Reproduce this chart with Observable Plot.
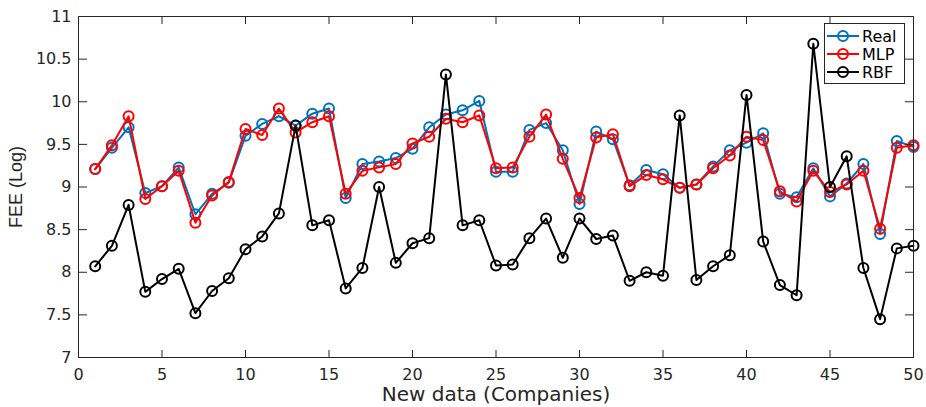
<!DOCTYPE html>
<html>
<head>
<meta charset="utf-8">
<script src="https://cdn.jsdelivr.net/npm/d3@7"></script>
<script src="https://cdn.jsdelivr.net/npm/@observablehq/plot@0.6"></script>
<style>
  html, body { margin: 0; padding: 0; background: #fff; }
  #wrap { position: relative; width: 926px; height: 407px; }
  #legend {
    position: absolute; left: 824px; top: 23px; width: 81px; height: 61px;
    border: 1px solid #262626; background: #fff; box-sizing: border-box;
    font-family: "DejaVu Sans", sans-serif; font-size: 16px; color: #000;
    padding-top: 3px;
  }
  .item { display: flex; align-items: center; height: 18px; }
  .item svg { margin-left: 2px; margin-right: 3px; }
</style>
</head>
<body>
<div id="wrap"></div>
<script>
// Company index (x)
const companies = [1,2,3,4,5,6,7,8,9,10,11,12,13,14,15,16,17,18,19,20,21,22,23,24,25,26,27,28,29,30,31,32,33,34,35,36,37,38,39,40,41,42,43,44,45,46,47,48,49,50];

// Series values (FEE, log)
const real = [9.21,9.46,9.70,8.93,9.01,9.23,8.68,8.92,9.05,9.60,9.74,9.83,9.72,9.86,9.92,8.87,9.27,9.30,9.34,9.45,9.70,9.85,9.90,10.01,9.18,9.18,9.67,9.75,9.43,8.80,9.65,9.56,9.02,9.20,9.15,8.99,9.03,9.24,9.43,9.52,9.63,8.92,8.88,9.22,8.89,9.04,9.27,8.45,9.54,9.47];
const mlp  = [9.21,9.49,9.83,8.86,9.01,9.19,8.58,8.90,9.06,9.68,9.61,9.92,9.64,9.76,9.83,8.92,9.19,9.23,9.27,9.51,9.59,9.80,9.76,9.84,9.22,9.23,9.59,9.85,9.33,8.87,9.58,9.62,9.01,9.14,9.09,8.99,9.03,9.22,9.37,9.59,9.55,8.95,8.83,9.19,8.94,9.03,9.19,8.51,9.46,9.49];
const rbf  = [8.07,8.31,8.79,7.77,7.92,8.04,7.52,7.78,7.93,8.27,8.42,8.69,9.72,8.55,8.61,7.81,8.05,9.00,8.11,8.34,8.40,10.32,8.55,8.61,8.08,8.09,8.40,8.63,8.17,8.63,8.39,8.43,7.90,8.00,7.96,9.84,7.91,8.07,8.20,10.08,8.36,7.85,7.73,10.68,9.00,9.36,8.05,7.45,8.28,8.31];

const models = ["Real", "MLP", "RBF"];
const colors = ["#0072BD", "#FF0000", "#000000"];
const seriesValues = [real, mlp, rbf];

// Tick labels
const xTicks = [0,5,10,15,20,25,30,35,40,45,50];
const yTicks = [7,7.5,8,8.5,9,9.5,10,10.5,11];
const xLabel = "New data (Companies)";
const yLabel = "FEE (Log)";

const rows = [];
models.forEach((m, j) => {
  companies.forEach((c, i) => rows.push({company: c, model: m, fee: seriesValues[j][i]}));
});

const seriesMarks = [];
models.forEach(m => {
  const d = rows.filter(r => r.model === m);
  seriesMarks.push(Plot.line(d, {x: "company", y: "fee", stroke: "model", strokeWidth: 2}));
  seriesMarks.push(Plot.dot(d, {x: "company", y: "fee", stroke: "model", r: 5, strokeWidth: 2, fill: "none"}));
});

const ink = "#262626";
const fmt = d => String(d);

const chart = Plot.plot({
  width: 926,
  height: 407,
  marginLeft: 78,
  marginRight: 13,
  marginTop: 16,
  marginBottom: 50,
  style: {fontFamily: "DejaVu Sans, sans-serif", fontSize: "16px", background: "#fff", color: ink},
  x: {domain: [0, 50]},
  y: {domain: [7, 11]},
  color: {domain: models, range: colors},
  marks: [
    ...seriesMarks,
    Plot.frame({stroke: ink, strokeWidth: 1}),
    Plot.axisX(xTicks, {anchor: "bottom", tickSize: -7, tickPadding: 18, tickFormat: fmt, fontSize: 16, fill: ink, stroke: ink, label: null}),
    Plot.axisX(xTicks, {anchor: "top", tickSize: -7, fill: "none", stroke: ink, label: null}),
    Plot.axisY(yTicks, {anchor: "left", tickSize: -9, tickPadding: 16, tickFormat: fmt, fontSize: 16, fill: ink, stroke: ink, label: null}),
    Plot.axisY(yTicks, {anchor: "right", tickSize: -9, fill: "none", stroke: ink, label: null}),
    Plot.axisX([], {anchor: "bottom", tickSize: 0, fontSize: 20, fill: ink, label: xLabel, labelAnchor: "center", labelOffset: 43, labelArrow: "none"}),
    Plot.axisY([], {anchor: "left", tickSize: 0, fontSize: 18, fontFamily: "Liberation Sans, Arial, sans-serif", fill: ink, label: yLabel, labelAnchor: "center", labelOffset: 69, labelArrow: "none"})
  ]
});

const wrap = document.getElementById("wrap");
wrap.appendChild(chart);

// Legend (HTML overlay inside the axes, top-right)
const legend = document.createElement("div");
legend.id = "legend";
models.forEach((m, j) => {
  const item = document.createElement("div");
  item.className = "item";
  const sw = d3.create("svg").attr("width", 32).attr("height", 14);
  sw.append("line").attr("x1", 0).attr("x2", 32).attr("y1", 7).attr("y2", 7).attr("stroke", colors[j]).attr("stroke-width", 2);
  sw.append("circle").attr("cx", 16).attr("cy", 7).attr("r", 5).attr("fill", "none").attr("stroke", colors[j]).attr("stroke-width", 2);
  item.appendChild(sw.node());
  const t = document.createElement("span");
  t.textContent = m;
  item.appendChild(t);
  legend.appendChild(item);
});
wrap.appendChild(legend);
</script>
</body>
</html>
